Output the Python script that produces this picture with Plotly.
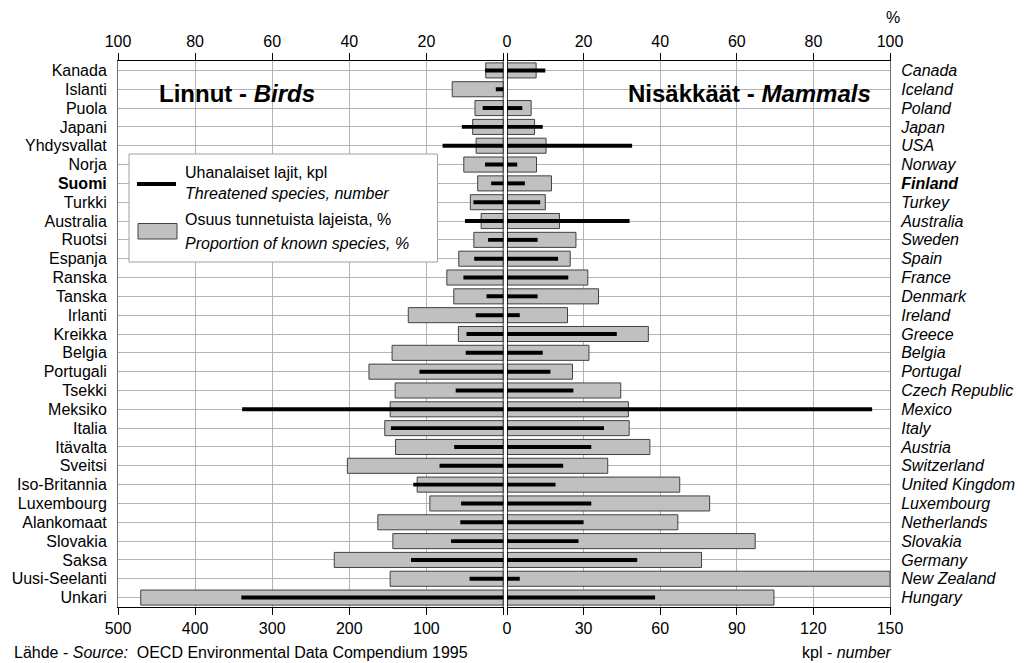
import plotly.graph_objects as go

# ---------------- data ----------------
countries_fi = ["Kanada", "Islanti", "Puola", "Japani", "Yhdysvallat", "Norja", "Suomi", "Turkki",
                "Australia", "Ruotsi", "Espanja", "Ranska", "Tanska", "Irlanti", "Kreikka", "Belgia",
                "Portugali", "Tsekki", "Meksiko", "Italia", "Itävalta", "Sveitsi", "Iso-Britannia",
                "Luxembourg", "Alankomaat", "Slovakia", "Saksa", "Uusi-Seelanti", "Unkari"]
countries_en = ["Canada", "Iceland", "Poland", "Japan", "USA", "Norway", "Finland", "Turkey",
                "Australia", "Sweden", "Spain", "France", "Denmark", "Ireland", "Greece", "Belgia",
                "Portugal", "Czech Republic", "Mexico", "Italy", "Austria", "Switzerland",
                "United Kingdom", "Luxembourg", "Netherlands", "Slovakia", "Germany", "New Zealand",
                "Hungary"]

birds_pct = [4.6, 13.3, 7.4, 8.0, 7.1, 10.3, 6.7, 8.6, 5.8, 7.7, 11.6, 14.7, 12.9, 24.7, 11.7,
             28.9, 34.9, 28.1, 29.4, 30.8, 28.0, 40.5, 22.4, 19.1, 32.6, 28.7, 43.9, 29.4, 94.1]
birds_num = [24, 10, 27, 54, 79, 24, 16, 39, 50, 20, 38, 52, 22, 36, 48,
             49, 109, 62, 339, 146, 64, 83, 117, 55, 56, 68, 120, 44, 340]
mammals_pct = [7.6, None, 6.3, 7.2, 10.2, 7.7, 11.6, 10.0, 13.7, 18.0, 16.5, 21.1, 23.9, 15.8, 36.9,
               21.4, 17.1, 29.7, 31.7, 31.9, 37.3, 26.3, 45.1, 52.9, 44.6, 64.8, 50.8, 100, 69.7]
mammals_num = [15, None, 6, 14, 49, 4, 7, 13, 48, 12, 20, 24, 12, 5, 43,
               14, 17, 26, 143, 38, 33, 22, 19, 33, 30, 28, 51, 5, 58]

pct_ticks_left = [100, 80, 60, 40, 20, 0]
num_ticks_left = [500, 400, 300, 200, 100, 0]
pct_ticks_right = [0, 20, 40, 60, 80, 100]
num_ticks_right = [0, 30, 60, 90, 120, 150]

# ---------------- styling ----------------
FONT = "Liberation Sans, Arial, sans-serif"
OFF = 8                      # page body margin offset
W, H = 1024 - OFF, 663 - OFF
# plot area in page pixels: x 118..890, y 61..607
ML = 118 - OFF
MT = 61 - OFF
MR = W - (890 - OFF)
MB = H - (607 - OFF)
PW, PH = W - ML - MR, H - MT - MB
GREY = "#c0c0c0"
EDGE = "#404040"
GRID = "#b4b4b4"


def px(x):
    return (x - OFF - ML) / PW


def py(y):
    return (H - MB - (y - OFF)) / PH


dom_left = [0, px(503.5)]
dom_right = [px(507), 1]

ticktext_fi = ["<b>%s</b>" % c if c == "Suomi" else c for c in countries_fi]
ticktext_en = ["<b><i>%s</i></b>" % c if c == "Finland" else "<i>%s</i>" % c for c in countries_en]

fig = go.Figure()
fig.add_trace(go.Bar(y=countries_fi, x=birds_pct, orientation="h", xaxis="x", yaxis="y",
                     width=0.8, marker=dict(color=GREY, line=dict(color=EDGE, width=1)),
                     showlegend=False, hoverinfo="x+y"))
fig.add_trace(go.Bar(y=countries_fi, x=birds_num, orientation="h", xaxis="x2", yaxis="y",
                     width=0.21, marker=dict(color="black", line=dict(width=0)),
                     showlegend=False, hoverinfo="x+y"))
fig.add_trace(go.Bar(y=countries_en, x=mammals_pct, orientation="h", xaxis="x3", yaxis="y2",
                     width=0.8, marker=dict(color=GREY, line=dict(color=EDGE, width=1)),
                     showlegend=False, hoverinfo="x+y"))
fig.add_trace(go.Bar(y=countries_en, x=mammals_num, orientation="h", xaxis="x4", yaxis="y2",
                     width=0.21, marker=dict(color="black", line=dict(width=0)),
                     showlegend=False, hoverinfo="x+y"))

xcommon = dict(showline=True, linecolor="black", linewidth=1, ticks="outside", ticklen=7,
               tickcolor="black", tickwidth=1, zeroline=False, fixedrange=True, automargin=False,
               tickfont=dict(family=FONT, size=16, color="black"))
ycommon = dict(type="category", autorange="reversed", showgrid=True, gridcolor=GRID, gridwidth=1,
               showline=True, linecolor="#707070", linewidth=1, ticks="", domain=[0, 1],
               ticklabelstandoff=7, zeroline=False, fixedrange=True, automargin=False,
               tickfont=dict(family=FONT, size=16, color="black"))

fig.update_layout(
    width=W, height=H, autosize=False,
    margin=dict(l=ML, r=MR, t=MT, b=MB, pad=0),
    paper_bgcolor="white", plot_bgcolor="white",
    font=dict(family=FONT, size=16, color="black"),
    bargap=0.2,
    xaxis=dict(domain=dom_left, range=[100, 0], side="top", anchor="y",
               tickvals=pct_ticks_left, ticktext=[str(v) if v else "" for v in pct_ticks_left],
               showgrid=True, gridcolor=GRID, **xcommon),
    xaxis2=dict(overlaying="x", range=[500, 0], side="bottom", anchor="y",
                tickvals=num_ticks_left, ticktext=[str(v) if v else "" for v in num_ticks_left],
                showgrid=False, **xcommon),
    xaxis3=dict(domain=dom_right, range=[0, 100], side="top", anchor="y2",
                tickvals=pct_ticks_right, ticktext=[str(v) for v in pct_ticks_right],
                showgrid=True, gridcolor=GRID, **xcommon),
    xaxis4=dict(overlaying="x3", range=[0, 150], side="bottom", anchor="y2",
                tickvals=num_ticks_right, ticktext=[str(v) for v in num_ticks_right],
                showgrid=False, **xcommon),
    yaxis=dict(anchor="x", side="left", tickvals=countries_fi, ticktext=ticktext_fi, **ycommon),
    yaxis2=dict(anchor="x3", side="right", tickvals=countries_en, ticktext=ticktext_en, **ycommon),
)

shapes = [
    # zero lines
    dict(type="line", xref="x", yref="y domain", x0=0, x1=0, y0=0, y1=1,
         line=dict(color="black", width=1.5), layer="above"),
    dict(type="line", xref="x3", yref="y2 domain", x0=0, x1=0, y0=0, y1=1,
         line=dict(color="black", width=1.5), layer="above"),
    # legend box
    dict(type="rect", xref="paper", yref="paper", x0=px(129), x1=px(437.5), y0=py(262), y1=py(154),
         fillcolor="white", line=dict(color="#a0a0a0", width=1), layer="above"),
    dict(type="line", xref="paper", yref="paper", x0=px(137), x1=px(176), y0=py(184), y1=py(184),
         line=dict(color="black", width=4), layer="above"),
    dict(type="rect", xref="paper", yref="paper", x0=px(138), x1=px(177), y0=py(239), y1=py(223.5),
         fillcolor=GREY, line=dict(color=EDGE, width=1), layer="above"),
]
fig.update_layout(shapes=shapes)


def ann(text, x, y, xanchor="left", size=16):
    return dict(text=text, xref="paper", yref="paper", x=px(x), y=py(y), xanchor=xanchor,
                yanchor="middle", showarrow=False, font=dict(family=FONT, size=size, color="black"))


annotations = [
    ann("<b>Linnut - <i>Birds</i></b>", 157, 93, size=24),
    ann("<b>Nisäkkäät - <i>Mammals</i></b>", 873, 93, xanchor="right", size=24),
    ann("Uhanalaiset lajit, kpl", 183, 172),
    ann("<i>Threatened species, number</i>", 183, 193),
    ann("Osuus tunnetuista lajeista, %", 183, 220),
    ann("<i>Proportion of known species, %</i>", 183, 243),
    ann("%", 893, 17, xanchor="center"),
    ann("kpl - <i>number</i>", 894, 652, xanchor="right"),
    ann("Lähde - <i>Source:</i>\u00a0 OECD Environmental Data Compendium 1995", 12, 652),
]
fig.update_layout(annotations=annotations)

fig.write_html("out.html")
